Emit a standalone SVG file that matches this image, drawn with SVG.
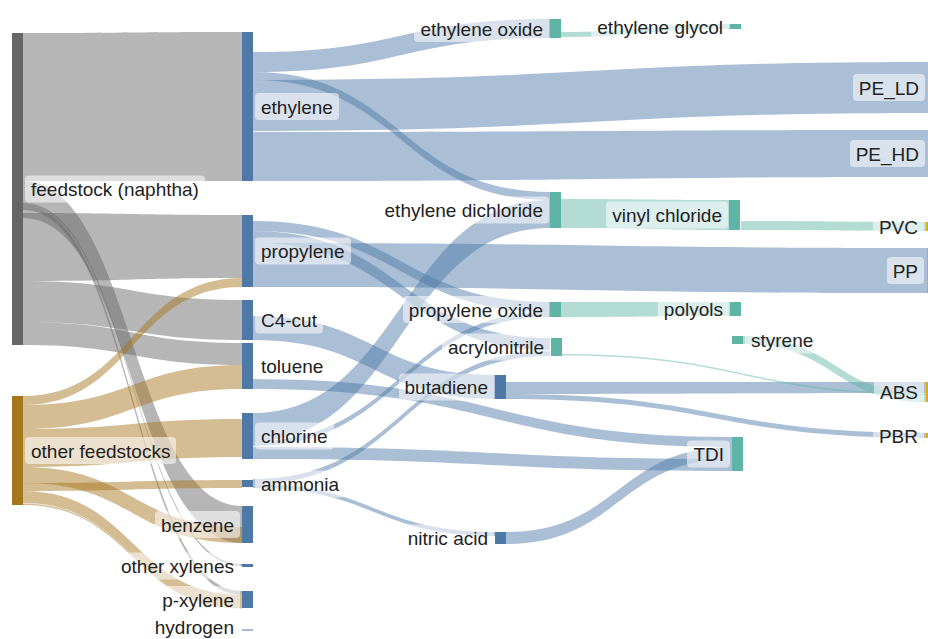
<svg xmlns="http://www.w3.org/2000/svg" width="928" height="639" viewBox="0 0 928 639">
<style>
.lk{fill-opacity:0.48;stroke:none}
.g{fill:#666666}.t{fill:#a6761d}.b{fill:#4e79a7}.e{fill:#5eb5a6}.y{fill:#e6ab02}
.nd{stroke:none}
.bx{fill:#ffffff;fill-opacity:0.55}
text{font-family:"Liberation Sans",Arial,Helvetica,sans-serif;font-size:19px;fill:#222222}
.r{text-anchor:end}
</style>
<rect width="928" height="639" fill="#ffffff"/>
<g id="links">
<!-- feedstock (naphtha) -->
<path class="lk g" d="M23,33 C132.5,33 132.5,32 242,32 L242,181 C132.5,181 132.5,181 23,181 Z"/>
<path class="lk g" d="M23,181 C132.5,181 132.5,506 242,506 L242,543 C132.5,543 132.5,218 23,218 Z"/>
<path class="lk g" d="M23,203 C132.5,203 132.5,564 242,564 L242,566 C132.5,566 132.5,205 23,205 Z"/>
<path class="lk g" d="M23,205 C132.5,205 132.5,591 242,591 L242,595 C132.5,595 132.5,210 23,210 Z"/>
<path class="lk g" d="M23,213 C132.5,213 132.5,215 242,215 L242,278 C132.5,278 132.5,281 23,281 Z"/>
<path class="lk g" d="M23,281 C132.5,281 132.5,300 242,300 L242,340 C132.5,340 132.5,322 23,322 Z"/>
<path class="lk g" d="M23,322 C132.5,322 132.5,343 242,343 L242,365 C132.5,365 132.5,345 23,345 Z"/>
<!-- other feedstocks -->
<path class="lk t" d="M23,396 C132.5,396 132.5,278 242,278 L242,287 C132.5,287 132.5,405 23,405 Z"/>
<path class="lk t" d="M23,405 C132.5,405 132.5,365 242,365 L242,389 C132.5,389 132.5,429 23,429 Z"/>
<path class="lk t" d="M23,429 C132.5,429 132.5,419 242,419 L242,457 C132.5,457 132.5,467 23,467 Z"/>
<path class="lk t" d="M23,467 C132.5,467 132.5,527 242,527 L242,543 C132.5,543 132.5,483 23,483 Z"/>
<path class="lk t" d="M23,483 C132.5,483 132.5,480 242,480 L242,488 C132.5,488 132.5,491 23,491 Z"/>
<path class="lk t" d="M23,491 C132.5,491 132.5,595 242,595 L242,607 C132.5,607 132.5,503 23,503 Z"/>
<path class="lk t" d="M23,503.5 C132.5,503.5 132.5,607 242,607 L242,608.5 C132.5,608.5 132.5,505 23,505 Z"/>
<!-- ethylene -->
<path class="lk b" d="M253,52 C401.5,52 401.5,19 550,19 L550,38 C401.5,38 401.5,72 253,72 Z"/>
<path class="lk b" d="M253,72 C401.5,72 401.5,192 550,192 L550,200 C401.5,200 401.5,80 253,80 Z"/>
<path class="lk b" d="M253,80 C591.5,80 591.5,62 930,62 L930,113 C591.5,113 591.5,131 253,131 Z"/>
<path class="lk b" d="M253,132 C591.5,132 591.5,130 930,130 L930,177 C591.5,177 591.5,181 253,181 Z"/>
<!-- propylene -->
<path class="lk b" d="M253,221 C401.5,221 401.5,302 550,302 L550,312 C401.5,312 401.5,231 253,231 Z"/>
<path class="lk b" d="M253,231 C401.5,231 401.5,338 550,338 L550,350 C401.5,350 401.5,243 253,243 Z"/>
<path class="lk b" d="M253,243 C590,243 590,248 927,248 L927,293 C590,293 590,287 253,287 Z"/>
<!-- C4-cut -->
<path class="lk b" d="M253,316 C374,316 374,375 495,375 L495,399 C374,399 374,340 253,340 Z"/>
<!-- toluene -->
<path class="lk b" d="M253,379 C492.5,379 492.5,437 732,437 L732,447 C492.5,447 492.5,389 253,389 Z"/>
<!-- chlorine -->
<path class="lk b" d="M253,413 C401.5,413 401.5,200 550,200 L550,228 C401.5,228 401.5,441 253,441 Z"/>
<path class="lk b" d="M253,441 C401.5,441 401.5,312 550,312 L550,317 C401.5,317 401.5,446 253,446 Z"/>
<path class="lk b" d="M253,447 C492.5,447 492.5,459 732,459 L732,471 C492.5,471 492.5,459 253,459 Z"/>
<!-- ammonia -->
<path class="lk b" d="M253,479 C401.5,479 401.5,351 550,351 L550,356 C401.5,356 401.5,484 253,484 Z"/>
<path class="lk b" d="M253,484 C374,484 374,532 495,532 L495,536 C374,536 374,488 253,488 Z"/>
<!-- butadiene -->
<path class="lk b" d="M506,382 C716,382 716,382 926,382 L926,393 C716,393 716,394 506,394 Z"/>
<path class="lk b" d="M506,394 C716,394 716,433 926,433 L926,438 C716,438 716,399 506,399 Z"/>
<!-- nitric acid -->
<path class="lk b" d="M506,532 C619,532 619,447 732,447 L732,459 C619,459 619,544 506,544 Z"/>
<!-- teal -->
<path class="lk e" d="M561,32 C645.5,32 645.5,24 730,24 L730,29 C645.5,29 645.5,37 561,37 Z"/>
<path class="lk e" d="M561,199 C645.5,199 645.5,200 730,200 L730,230 C645.5,230 645.5,228 561,228 Z"/>
<path class="lk e" d="M741,221 C833.5,221 833.5,222 926,222 L926,231 C833.5,231 833.5,230 741,230 Z"/>
<path class="lk e" d="M561,302 C645.5,302 645.5,302 730,302 L730,316 C645.5,316 645.5,317 561,317 Z"/>
<path class="lk e" d="M561,354 C743.5,354 743.5,393 926,393 L926,394.5 C743.5,394.5 743.5,355.5 561,355.5 Z"/>
<path class="lk e" d="M743,336 C834.5,336 834.5,394 926,394 L926,402 C834.5,402 834.5,344 743,344 Z"/>
</g>
<g id="feedstock"><rect class="nd g" x="12" y="33" width="11" height="312"/><rect class="bx" x="25" y="175.5" width="180" height="27" rx="4"/><text x="31" y="196">feedstock (naphtha)</text></g>
<g id="other-feedstocks"><rect class="nd t" x="12" y="396" width="11" height="109"/><rect class="bx" x="25" y="437" width="151" height="27" rx="4"/><text x="31" y="457.5">other feedstocks</text></g>
<g id="ethylene"><rect class="nd b" x="242" y="32" width="11" height="149"/><rect class="bx" x="255" y="93" width="84" height="27" rx="4"/><text x="261" y="113.5">ethylene</text></g>
<g id="propylene"><rect class="nd b" x="242" y="215" width="11" height="72"/><rect class="bx" x="255" y="237.5" width="96" height="27" rx="4"/><text x="261" y="258">propylene</text></g>
<g id="c4-cut"><rect class="nd b" x="242" y="300" width="11" height="40"/><rect class="bx" x="255" y="306.5" width="68" height="27" rx="4"/><text x="261" y="327">C4-cut</text></g>
<g id="toluene"><rect class="nd b" x="242" y="343" width="11" height="46"/><rect class="bx" x="255" y="352.5" width="74" height="27" rx="4"/><text x="261" y="373">toluene</text></g>
<g id="chlorine"><rect class="nd b" x="242" y="413" width="11" height="46"/><rect class="bx" x="255" y="422.5" width="79" height="27" rx="4"/><text x="261" y="443">chlorine</text></g>
<g id="ammonia"><rect class="nd b" x="242" y="480" width="11" height="7"/><rect class="bx" x="255" y="470.5" width="90" height="27" rx="4"/><text x="261" y="491">ammonia</text></g>
<g id="benzene"><rect class="nd b" x="242" y="506" width="11" height="37"/><rect class="bx" x="155" y="511" width="85" height="27" rx="4"/><text class="r" x="234" y="531.5">benzene</text></g>
<g id="other-xylenes"><rect class="nd b" x="242" y="564" width="11" height="3"/><rect class="bx" x="115" y="552.5" width="125" height="27" rx="4"/><text class="r" x="234" y="573">other xylenes</text></g>
<g id="p-xylene"><rect class="nd b" x="242" y="591" width="11" height="17"/><rect class="bx" x="156" y="586" width="84" height="27" rx="4"/><text class="r" x="234" y="606.5">p-xylene</text></g>
<g id="hydrogen"><rect class="nd b" x="242" y="629.5" width="11" height="1"/><rect class="bx" x="149" y="616" width="91" height="23" rx="4"/><text class="r" x="234" y="634">hydrogen</text></g>
<g id="ethylene-oxide"><rect class="nd e" x="550" y="19" width="11" height="19"/><rect class="bx" x="414" y="15" width="135" height="27" rx="4"/><text class="r" x="543" y="35.5">ethylene oxide</text></g>
<g id="ethylene-dichloride"><rect class="nd e" x="550" y="192" width="11" height="36"/><rect class="bx" x="379" y="196.5" width="170" height="27" rx="4"/><text class="r" x="543" y="217">ethylene dichloride</text></g>
<g id="propylene-oxide"><rect class="nd e" x="550" y="302" width="11" height="15"/><rect class="bx" x="403" y="296" width="146" height="27" rx="4"/><text class="r" x="543" y="316.5">propylene oxide</text></g>
<g id="acrylonitrile"><rect class="nd e" x="551" y="338" width="11" height="18"/><rect class="bx" x="442" y="333.5" width="108" height="27" rx="4"/><text class="r" x="544" y="354">acrylonitrile</text></g>
<g id="butadiene"><rect class="nd b" x="495" y="375" width="11" height="24"/><rect class="bx" x="399" y="373.5" width="95" height="27" rx="4"/><text class="r" x="488" y="394">butadiene</text></g>
<g id="nitric-acid"><rect class="nd b" x="495" y="532" width="11" height="12"/><rect class="bx" x="402" y="524.5" width="92" height="27" rx="4"/><text class="r" x="488" y="545">nitric acid</text></g>
<g id="ethylene-glycol"><rect class="nd e" x="730" y="24" width="11" height="5"/><rect class="bx" x="591" y="13" width="138" height="27" rx="4"/><text class="r" x="723" y="33.5">ethylene glycol</text></g>
<g id="vinyl-chloride"><rect class="nd e" x="729" y="200" width="11" height="30"/><rect class="bx" x="606" y="201.5" width="122" height="27" rx="4"/><text class="r" x="722" y="222">vinyl chloride</text></g>
<g id="polyols"><rect class="nd e" x="730" y="302" width="11" height="14"/><rect class="bx" x="658" y="295.5" width="71" height="27" rx="4"/><text class="r" x="723" y="316">polyols</text></g>
<g id="styrene"><rect class="nd e" x="732" y="336" width="11" height="8"/><rect class="bx" x="745" y="326.5" width="74" height="27" rx="4"/><text x="751" y="347">styrene</text></g>
<g id="TDI"><rect class="nd e" x="732" y="437" width="11" height="34"/><rect class="bx" x="687" y="440.5" width="43" height="27" rx="4"/><text class="r" x="724" y="461">TDI</text></g>
<g id="PE_LD"><rect class="nd y" x="930" y="62" width="11" height="51"/><rect class="bx" x="853" y="74" width="72" height="27" rx="4"/><text class="r" x="919" y="94.5">PE_LD</text></g>
<g id="PE_HD"><rect class="nd y" x="930" y="130" width="11" height="47"/><rect class="bx" x="850" y="140" width="75" height="27" rx="4"/><text class="r" x="919" y="160.5">PE_HD</text></g>
<g id="PVC"><rect class="nd y" x="926" y="222" width="11" height="9"/><rect class="bx" x="873" y="213" width="51" height="27" rx="4"/><text class="r" x="918" y="233.5">PVC</text></g>
<g id="PP"><rect class="nd y" x="927" y="248" width="11" height="45"/><rect class="bx" x="887" y="257" width="37" height="27" rx="4"/><text class="r" x="918" y="277.5">PP</text></g>
<g id="ABS"><rect class="nd y" x="926" y="382" width="11" height="20"/><rect class="bx" x="874" y="378.5" width="50" height="27" rx="4"/><text class="r" x="918" y="399">ABS</text></g>
<g id="PBR"><rect class="nd y" x="926" y="433" width="11" height="5"/><rect class="bx" x="873" y="422" width="51" height="27" rx="4"/><text class="r" x="918" y="442.5">PBR</text></g>
</svg>
